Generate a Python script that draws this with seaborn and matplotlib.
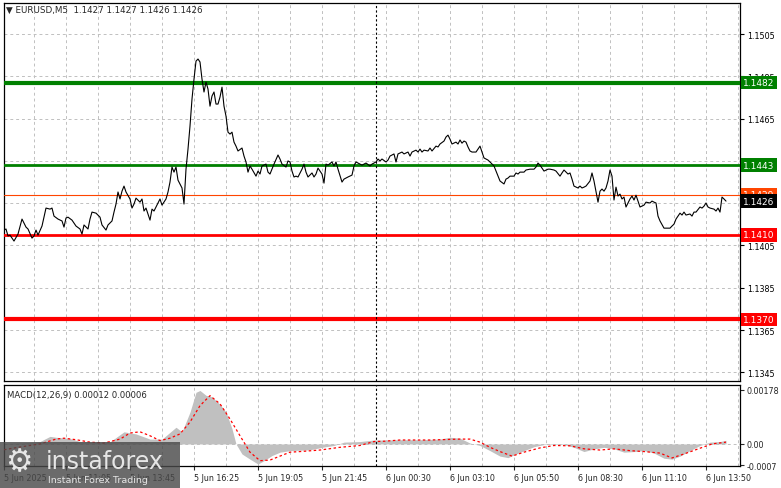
import pandas as pd
import matplotlib.pyplot as plt
import matplotlib.transforms as mtrans
from matplotlib.patches import Rectangle
import seaborn as sns

# EURUSD M5 closes (bar 0 = 5 Jun 08:30, one bar = 5 min)
bars = [0, 1, 2, 3, 5, 7, 9, 10, 11, 12, 14, 15, 16, 17, 19, 20, 21, 23, 24, 25,
        27, 29, 30, 31, 32, 34, 36, 38, 39, 40, 42, 43, 44, 46, 48, 49, 51, 52, 54, 55,
        56, 57, 58, 59, 60, 61, 63, 64, 65, 66, 68, 69, 70, 71, 73, 74, 75, 76, 78, 79,
        81, 82, 83, 84, 85, 86, 87, 89, 90, 91, 92, 93, 94, 95, 96, 97, 98, 99, 100, 101,
        102, 103, 104, 105, 106, 107, 108, 109, 110, 111, 112, 113, 114, 115, 116, 117, 119, 120, 121, 122,
        123, 124, 126, 127, 128, 129, 131, 132, 133, 134, 135, 137, 138, 139, 141, 142, 143, 144, 145, 146,
        147, 149, 150, 151, 152, 154, 155, 156, 157, 159, 160, 161, 162, 164, 165, 166, 167, 169, 170, 172,
        174, 175, 176, 178, 179, 181, 183, 184, 186, 187, 188, 189, 191, 192, 193, 195, 196, 197, 199, 200,
        202, 203, 204, 206, 207, 208, 209, 210, 212, 213, 214, 216, 217, 218, 220, 221, 222, 223, 224, 226,
        227, 228, 229, 230, 231, 232, 233, 234, 236, 237, 238, 239, 240, 242, 243, 245, 246, 247, 248, 250,
        251, 252, 253, 255, 256, 257, 258, 260, 261, 263, 265, 266, 267, 268, 269, 270, 272, 273, 275, 276,
        278, 279, 280, 282, 283, 284, 285, 287, 288, 289, 290, 291, 293, 294, 295, 297, 298, 299, 300, 301,
        302, 303, 304, 305, 306, 307, 308, 309, 310, 311, 313, 314, 315, 316, 317, 318, 320, 321, 323, 324,
        325, 326, 327, 328, 330, 331, 333, 334, 335, 336, 338, 339, 340, 341, 343, 344, 345, 346, 348, 349,
        350, 351, 352, 353, 355, 356, 357, 358, 359, 360, 361]
close = [1.14123, 1.14128, 1.14095, 1.14099, 1.14071, 1.14104, 1.14175, 1.14156, 1.14137, 1.14128,
         1.14085, 1.14095, 1.14123, 1.14099, 1.14142, 1.14184, 1.14227, 1.14222, 1.14227, 1.14189,
         1.14175, 1.14166, 1.14137, 1.14180, 1.14184, 1.14170, 1.14142, 1.14128, 1.14104, 1.14147,
         1.14128, 1.14175, 1.14208, 1.14203, 1.14184, 1.14147, 1.14123, 1.14147, 1.14166, 1.14208,
         1.14246, 1.14303, 1.14270, 1.14307, 1.14331, 1.14303, 1.14270, 1.14227, 1.14246, 1.14274,
         1.14255, 1.14270, 1.14213, 1.14227, 1.14170, 1.14222, 1.14213, 1.14232, 1.14270, 1.14241,
         1.14270, 1.14303, 1.14350, 1.14421, 1.14397, 1.14421, 1.14359, 1.14322, 1.14246, 1.14411,
         1.14506, 1.14615, 1.14743, 1.14837, 1.14922, 1.14932, 1.14918, 1.14837, 1.14776, 1.14823,
         1.14790, 1.14709, 1.14757, 1.14776, 1.14719, 1.14719, 1.14752, 1.14799, 1.14709, 1.14662,
         1.14586, 1.14577, 1.14586, 1.14539, 1.14520, 1.14497, 1.14511, 1.14473, 1.14445, 1.14397,
         1.14426, 1.14411, 1.14378, 1.14402, 1.14388, 1.14426, 1.14435, 1.14397, 1.14388, 1.14411,
         1.14435, 1.14478, 1.14459, 1.14435, 1.14421, 1.14450, 1.14445, 1.14402, 1.14374, 1.14378,
         1.14374, 1.14411, 1.14435, 1.14397, 1.14374, 1.14393, 1.14374, 1.14388, 1.14416, 1.14388,
         1.14345, 1.14435, 1.14430, 1.14445, 1.14426, 1.14445, 1.14411, 1.14350, 1.14364, 1.14374,
         1.14383, 1.14426, 1.14445, 1.14435, 1.14430, 1.14440, 1.14426, 1.14435, 1.14445, 1.14459,
         1.14450, 1.14459, 1.14445, 1.14454, 1.14473, 1.14483, 1.14445, 1.14483, 1.14492, 1.14483,
         1.14492, 1.14473, 1.14492, 1.14501, 1.14492, 1.14506, 1.14492, 1.14501, 1.14497, 1.14511,
         1.14497, 1.14520, 1.14516, 1.14530, 1.14544, 1.14563, 1.14572, 1.14553, 1.14530, 1.14539,
         1.14530, 1.14549, 1.14534, 1.14544, 1.14539, 1.14516, 1.14497, 1.14492, 1.14492, 1.14506,
         1.14520, 1.14492, 1.14464, 1.14454, 1.14445, 1.14426, 1.14402, 1.14378, 1.14355, 1.14341,
         1.14364, 1.14369, 1.14378, 1.14378, 1.14393, 1.14388, 1.14397, 1.14397, 1.14407, 1.14411,
         1.14411, 1.14421, 1.14440, 1.14430, 1.14416, 1.14402, 1.14411, 1.14411, 1.14407, 1.14402,
         1.14378, 1.14393, 1.14407, 1.14388, 1.14393, 1.14364, 1.14331, 1.14322, 1.14331, 1.14322,
         1.14326, 1.14331, 1.14355, 1.14393, 1.14355, 1.14255, 1.14307, 1.14317, 1.14307, 1.14322,
         1.14355, 1.14407, 1.14378, 1.14265, 1.14326, 1.14284, 1.14293, 1.14270, 1.14279, 1.14232,
         1.14270, 1.14284, 1.14265, 1.14288, 1.14260, 1.14232, 1.14241, 1.14255, 1.14251, 1.14260,
         1.14255, 1.14251, 1.14189, 1.14166, 1.14132, 1.14132, 1.14132, 1.14142, 1.14151, 1.14175,
         1.14203, 1.14194, 1.14208, 1.14194, 1.14199, 1.14189, 1.14208, 1.14208, 1.14232, 1.14227,
         1.14236, 1.14251, 1.14232, 1.14227, 1.14222, 1.14213, 1.14227, 1.14208, 1.14279, 1.14270,
         1.14260]

# MACD(12,26,9) histogram and signal line
macd_bars = [0, 10, 18, 23, 26, 33, 38, 53, 60, 66, 73, 79, 86, 89, 93, 96, 98, 101, 104, 108,
             111, 114, 116, 119, 123, 127, 130, 134, 138, 143, 153, 160, 165, 170, 178, 185, 190, 198, 208, 218,
             223, 228, 233, 238, 243, 248, 252, 255, 260, 265, 270, 275, 280, 285, 290, 295, 300, 305, 310, 315,
             320, 325, 330, 334, 338, 343, 348, 353, 358, 361]
macd_hist = [0.00002, 0.00004, 0.00008, 0.00025, 0.00022, 0.00018, 0.00008, 0.00007, 0.00040, 0.00033,
             0.00016, 0.00016, 0.00055, 0.00040, 0.00105, 0.00170, 0.00176, 0.00160, 0.00155, 0.00130,
             0.00105, 0.00050, 0.00000, -0.00033, -0.00050, -0.00066, -0.00055, -0.00038, -0.00027, -0.00022,
             -0.00019, -0.00010, -0.00005, 0.00006, 0.00008, 0.00013, 0.00013, 0.00014, 0.00014, 0.00016,
             0.00022, 0.00019, 0.00003, -0.00005, -0.00022, -0.00040, -0.00045, -0.00036, -0.00022, -0.00009,
             -0.00002, -0.00002, -0.00002, -0.00011, -0.00025, -0.00016, -0.00011, -0.00016, -0.00027, -0.00025,
             -0.00022, -0.00030, -0.00047, -0.00050, -0.00040, -0.00022, -0.00005, 0.00006, 0.00008, 0.00012]
signal_bars = [0, 8, 18, 26, 30, 36, 43, 50, 58, 63, 68, 73, 78, 83, 88, 93, 98, 103, 108, 113,
               118, 123, 128, 133, 138, 143, 148, 158, 168, 178, 185, 190, 198, 213, 228, 233, 238, 243, 248, 254,
               260, 268, 275, 283, 290, 298, 305, 313, 320, 328, 334, 340, 348, 354, 361]
signal = [-0.00019, -0.00010, 0.00000, 0.00016, 0.00019, 0.00014, 0.00006, 0.00003, 0.00016, 0.00036,
          0.00040, 0.00027, 0.00011, 0.00019, 0.00033, 0.00072, 0.00126, 0.00159, 0.00132, 0.00082,
          0.00027, -0.00027, -0.00055, -0.00053, -0.00040, -0.00027, -0.00025, -0.00020, -0.00011, -0.00005,
          0.00008, 0.00009, 0.00013, 0.00013, 0.00016, 0.00016, 0.00006, -0.00011, -0.00025, -0.00040,
          -0.00027, -0.00013, -0.00005, -0.00006, -0.00016, -0.00020, -0.00016, -0.00022, -0.00025, -0.00030,
          -0.00046, -0.00033, -0.00014, 0.00000, 0.00006]

levels = [1.1482, 1.1443, 1.1429, 1.1410, 1.1370]
last_price = 1.1426
price_ticks = [1.1505, 1.1485, 1.1465, 1.1445, 1.1425, 1.1405, 1.1385, 1.1365, 1.1345]
macd_ticks = [0.00178, 0.0, -0.0007]
macd_tick_labels = ['0.00178', '0.00', '-0.0007']
time_ticks = [0, 31, 63, 95, 127, 159, 191, 223, 255, 287, 319, 351]
time_labels = ['5 Jun 2025', '5 Jun 11:05', '5 Jun 13:45', '5 Jun 16:25', '5 Jun 19:05',
               '5 Jun 21:45', '6 Jun 00:30', '6 Jun 03:10', '6 Jun 05:50', '6 Jun 08:30',
               '6 Jun 11:10', '6 Jun 13:50']
separator_bar = 186  # 6 Jun 00:00

level_colors = ['#008000', '#008000', '#ff4500', '#ff0000', '#ff0000']
level_widths = [3.0, 2.0, 0.8, 2.0, 3.0]

sns.set_style('white')
plt.rcParams['font.family'] = ['DejaVu Sans']
fs = 5.8

W, H = 781, 489
fig = plt.figure(figsize=(W / 100, H / 100), dpi=100)
ax = fig.add_axes([4 / W, 1 - 382 / H, 736 / W, 378 / H])
axm = fig.add_axes([4 / W, 1 - 467 / H, 736 / W, 81 / H])

grid_kw = dict(color='#c0c0c0', ls=(0, (3, 3)), lw=0.7)

# --- price panel ---
df = pd.DataFrame({'bar': bars, 'close': close})
sns.lineplot(data=df, x='bar', y='close', ax=ax, color='black', lw=0.8, zorder=4)
for lvl, c, w in zip(levels, level_colors, level_widths):
    ax.axhline(lvl, color=c, lw=w, zorder=3)
ax.axvline(separator_bar, color='black', ls=(0, (2, 2)), lw=0.8, zorder=3)

ax.set_xlim(0, 368)
ax.set_ylim(1.13409, 1.15197)
ax.set_yticks(price_ticks)
ax.set_yticklabels([f'{p:.4f}' for p in price_ticks])
ax.set_xticks(range(15, 368, 16))
ax.grid(True, **grid_kw)
ax.tick_params(axis='x', bottom=False, labelbottom=False)
ax.tick_params(axis='y', left=False, labelleft=False, right=True, labelright=True,
               length=3, width=0.8, labelsize=fs, pad=2, colors='black')
ax.set_xlabel('')
ax.set_ylabel('')

trans = mtrans.blended_transform_factory(ax.transAxes, ax.transData)
box_fs = 6.5
for lvl, c in zip(levels, level_colors):
    ax.text(1.004, lvl, f'{lvl:.4f}', transform=trans, ha='left', va='center',
            color='white', fontsize=box_fs, clip_on=False, zorder=6,
            bbox=dict(boxstyle='square,pad=0.25', fc=c, ec='none'))
ax.text(1.004, last_price, f'{last_price:.4f}', transform=trans, ha='left', va='center',
        color='white', fontsize=box_fs, clip_on=False, zorder=7,
        bbox=dict(boxstyle='square,pad=0.25', fc='black', ec='none'))

# --- MACD panel ---
axm.fill_between(macd_bars, 0, macd_hist, color='#c0c0c0', lw=0, zorder=2)
dfs = pd.DataFrame({'bar': signal_bars, 'signal': signal})
sns.lineplot(data=dfs, x='bar', y='signal', ax=axm, color='red', lw=0.9,
             ls=(0, (2, 2)), zorder=4)
axm.axvline(separator_bar, color='black', ls=(0, (2, 2)), lw=0.8, zorder=3)
axm.axhline(0, zorder=1, **grid_kw)

axm.set_xlim(0, 368)
axm.set_ylim(-0.000725, 0.00194)
axm.set_yticks(macd_ticks)
axm.set_yticklabels(macd_tick_labels)
axm.set_xticks(time_ticks)
axm.set_xticklabels(time_labels, ha='left')
axm.set_xticks(range(15, 368, 32), minor=True)
axm.grid(True, axis='x', which='both', **grid_kw)
axm.tick_params(axis='x', which='major', bottom=True, length=3, width=0.8,
                labelsize=fs, pad=2)
axm.tick_params(axis='x', which='minor', bottom=False)
axm.tick_params(axis='y', left=False, labelleft=False, right=True, labelright=True,
                length=3, width=0.8, labelsize=fs, pad=2)
axm.set_xlabel('')
axm.set_ylabel('')

for a in (ax, axm):
    for s in a.spines.values():
        s.set_color('black')
        s.set_linewidth(0.9)

fig.text(6 / W, 1 - 10 / H, '\u25bc EURUSD,M5  1.1427 1.1427 1.1426 1.1426',
         fontsize=6.3, va='center', ha='left')
fig.text(7 / W, 1 - 396 / H, 'MACD(12,26,9) 0.00012 0.00006',
         fontsize=6.1, va='center', ha='left')

# instaforex watermark
fig.add_artist(Rectangle((0, 0), 180 / W, 46 / H, transform=fig.transFigure,
                         fc='#4a4a4a', ec='none', alpha=0.82, zorder=10))
fig.text(5 / W, 1 - 463 / H, '\u2699', fontsize=22, color='#e6e6e6',
         va='center', ha='left', zorder=11)
fig.text(46 / W, 1 - 462 / H, 'instaforex', fontsize=17, color='#e6e6e6',
         va='center', ha='left', zorder=11)
fig.text(48 / W, 1 - 481 / H, 'Instant Forex Trading', fontsize=6.8, color='#e6e6e6',
         va='center', ha='left', zorder=11)

fig.savefig('out.png', dpi=100)
